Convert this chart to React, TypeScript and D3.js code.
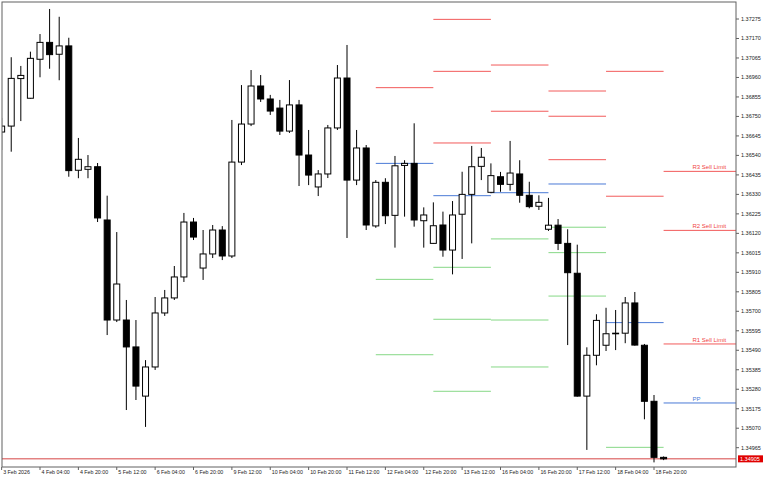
import React from 'react';
import * as d3 from 'd3';

// H4 bars, 3 Feb 2026 12:00 .. 19 Feb 2026 00:00
const opens = [1.36666,1.36698,1.36954,1.36848,1.37058,1.37149,1.37085,1.37130,1.36460,1.36465,
  1.36479,1.36192,1.35653,1.35653,1.35508,1.35243,1.35400,1.35691,1.35772,1.35885,
  1.36181,1.35933,1.36009,1.36138,1.35998,1.36504,1.36709,1.36914,1.36844,1.36795,
  1.36671,1.36812,1.36542,1.36370,1.36440,1.36688,1.36957,1.36407,1.36580,1.36160,
  1.36395,1.36217,1.36486,1.36497,1.36188,1.36066,1.36165,1.36030,1.36223,1.36330,
  1.36481,1.36341,1.36425,1.36384,1.36440,1.36325,1.36266,1.36142,1.36164,1.36066,
  1.35905,1.35243,1.35463,1.35517,1.35582,1.35582,1.35745,1.35517,1.35215,1.34913];
const highs = [1.36742,1.37069,1.37022,1.37099,1.37194,1.37329,1.37287,1.37174,1.36634,1.36542,
  1.36499,1.36323,1.36127,1.35761,1.35653,1.35437,1.35777,1.35815,1.35944,1.36230,
  1.36203,1.36138,1.36165,1.36159,1.36731,1.36919,1.37000,1.36973,1.36866,1.36839,
  1.36946,1.36839,1.36677,1.36461,1.36704,1.37027,1.37135,1.36677,1.36596,1.36407,
  1.36417,1.36537,1.36514,1.36713,1.36260,1.36287,1.36237,1.36294,1.36452,1.36591,
  1.36580,1.36497,1.36451,1.36618,1.36514,1.36398,1.36325,1.36311,1.36197,1.36142,
  1.36059,1.35506,1.35684,1.35719,1.35707,1.35777,1.35804,1.35524,1.35249,1.34918];
const lows = [1.36569,1.36560,1.36725,1.36846,1.36961,1.37007,1.36945,1.36425,1.36417,1.36417,
  1.36181,1.35572,1.35642,1.35168,1.35222,1.35077,1.35384,1.35675,1.35761,1.35858,
  1.36084,1.35869,1.35987,1.35976,1.35987,1.36488,1.36698,1.36828,1.36758,1.36650,
  1.36661,1.36375,1.36380,1.36321,1.36418,1.36677,1.36095,1.36380,1.36138,1.36150,
  1.36170,1.36043,1.36210,1.36156,1.36043,1.36064,1.35994,1.35899,1.35982,1.36066,
  1.36407,1.36336,1.36344,1.36350,1.36285,1.36255,1.36246,1.36133,1.36030,1.35518,
  1.35240,1.34953,1.35409,1.35486,1.35491,1.35528,1.35515,1.35118,1.34886,1.34898];
const closes = [1.36698,1.36955,1.36971,1.37063,1.37149,1.37083,1.37130,1.36458,1.36519,1.36479,
  1.36203,1.35653,1.35847,1.35508,1.35297,1.35400,1.35691,1.35772,1.35885,1.36181,
  1.36100,1.36009,1.36138,1.35998,1.36504,1.36709,1.36914,1.36844,1.36779,1.36671,
  1.36812,1.36542,1.36434,1.36440,1.36688,1.36957,1.36407,1.36580,1.36165,1.36395,
  1.36215,1.36484,1.36497,1.36192,1.36219,1.36161,1.36030,1.36219,1.36330,1.36479,
  1.36530,1.36431,1.36384,1.36445,1.36325,1.36264,1.36287,1.36164,1.36066,1.35908,
  1.35243,1.35463,1.35651,1.35579,1.35579,1.35745,1.35518,1.35215,1.34913,1.34905];

const timeLabels = ['3 Feb 2026','4 Feb 04:00','4 Feb 20:00','5 Feb 12:00','6 Feb 04:00','6 Feb 20:00',
  '9 Feb 12:00','10 Feb 04:00','10 Feb 20:00','11 Feb 12:00','12 Feb 04:00','12 Feb 20:00',
  '13 Feb 12:00','16 Feb 04:00','16 Feb 20:00','17 Feb 12:00','18 Feb 04:00','18 Feb 20:00'];
const timeLabelBars = [0,4,8,12,16,20,24,28,32,36,40,44,48,52,56,60,64,68];

const priceTicks = [1.37275,1.37170,1.37065,1.36960,1.36855,1.36750,1.36645,1.36540,1.36435,1.36330,
  1.36225,1.36120,1.36015,1.35910,1.35805,1.35700,1.35595,1.35490,1.35385,1.35280,1.35175,1.35070,1.34965];

const currentPrice = 1.34905;

// Daily pivot levels (12, 13, 16, 17, 18, 19 Feb); null = off chart
const pivotDayStart = [39,45,51,57,63,69];
const pivotR3 = [null,1.37273,null,1.36887,null,1.36454];
const pivotR2 = [null,1.36993,1.37027,1.36751,1.36993,1.36136];
const pivotR1 = [1.36905,1.36607,1.36778,1.36517,1.36320,1.35524];
const pivotPP = [1.36497,1.36323,1.36339,1.36386,1.35639,1.35206];
const pivotS1 = [1.35872,1.35937,1.36090,1.36153,1.34967,null];
const pivotS2 = [1.35466,1.35657,1.35653,1.36016,null,null];
const pivotS3 = [null,1.35269,1.35400,1.35782,null,null];
const lastDayLabels = ['R3 Sell Limit','R2 Sell Limit','R1 Sell Limit','PP'];

const W = 768, H = 480;
const L = 2, T = 2, R = 736, B = 467;
const RED = '#f25a5a', BLUE = '#4a7ad6', GREEN = '#86d886';
const FONT = '"Liberation Sans", Arial, sans-serif';

export default function App() {
  const x = d3.scaleLinear().domain([4, 68]).range([40, 654]);
  const y = d3.scaleLinear().domain([1.37275, 1.34965]).range([19, 447.7]);
  const bw = 6;

  const levels: { v: number | null; c: string }[][] = pivotDayStart.map((_, i) => [
    { v: pivotR3[i], c: RED }, { v: pivotR2[i], c: RED }, { v: pivotR1[i], c: RED },
    { v: pivotPP[i], c: BLUE },
    { v: pivotS1[i], c: GREEN }, { v: pivotS2[i], c: GREEN }, { v: pivotS3[i], c: GREEN },
  ]);

  return (
    <svg width={W} height={H} style={{ position: 'fixed', left: 0, top: 0, background: '#fff' }}
      fontFamily={FONT}>
      <rect x={0} y={0} width={W} height={H} fill="#fff" />
      <defs>
        <clipPath id="plot"><rect x={L} y={T} width={R - L} height={B - T} /></clipPath>
      </defs>
      <g clipPath="url(#plot)">
        {/* pivot lines */}
        {pivotDayStart.map((s, i) => {
          const x0 = x(s);
          const x1 = i < pivotDayStart.length - 1 ? x(pivotDayStart[i + 1]) : R;
          return levels[i].map((lv, j) => lv.v == null ? null : (
            <line key={`p${i}-${j}`} x1={x0} x2={x1} y1={y(lv.v)} y2={y(lv.v)} stroke={lv.c} strokeWidth={1} />
          ));
        })}
        {/* current price line */}
        <line x1={L} x2={R} y1={y(currentPrice)} y2={y(currentPrice)} stroke="#d64545" strokeWidth={1} />
        {/* candles */}
        {opens.map((o, i) => {
          const c = closes[i];
          const cx = x(i);
          const up = c >= o;
          const top = y(Math.max(o, c));
          const bot = y(Math.min(o, c));
          return (
            <g key={`c${i}`}>
              <line x1={cx} x2={cx} y1={y(highs[i])} y2={y(lows[i])} stroke="#000" strokeWidth={1} />
              <rect x={cx - bw / 2} y={top} width={bw} height={Math.max(0.6, bot - top)}
                fill={up ? '#fff' : '#000'} stroke="#000" strokeWidth={1} />
            </g>
          );
        })}
        {/* labels for last day */}
        {[pivotR3[5], pivotR2[5], pivotR1[5], pivotPP[5]].map((v, k) => v == null ? null : (
          <text key={`ll${k}`} x={692.5} y={y(v) - 2} fontSize={6} fill={k === 3 ? BLUE : '#f04444'}>
            {lastDayLabels[k]}
          </text>
        ))}
      </g>
      {/* frame */}
      <rect x={L} y={T} width={R - L} height={B - T} fill="none" stroke="#606060" strokeWidth={1} />
      {/* price axis */}
      {priceTicks.map((p, i) => (
        <g key={`t${i}`}>
          <line x1={R} x2={R + 3} y1={y(p)} y2={y(p)} stroke="#606060" />
          <text x={R + 5} y={y(p) + 2} fontSize={5.5} fill="#222">{p.toFixed(5)}</text>
        </g>
      ))}
      <rect x={738} y={y(currentPrice) - 3.5} width={25} height={7} fill="#e00000" />
      <text x={740} y={y(currentPrice) + 2} fontSize={5.5} fill="#fff">{currentPrice.toFixed(5)}</text>
      {/* time axis */}
      {timeLabels.map((t, i) => (
        <g key={`x${i}`}>
          <line x1={x(timeLabelBars[i])} x2={x(timeLabelBars[i])} y1={B} y2={B + 3} stroke="#606060" />
          <text x={x(timeLabelBars[i]) + 1.5} y={474} fontSize={5.3} fill="#222">{t}</text>
        </g>
      ))}
    </svg>
  );
}
